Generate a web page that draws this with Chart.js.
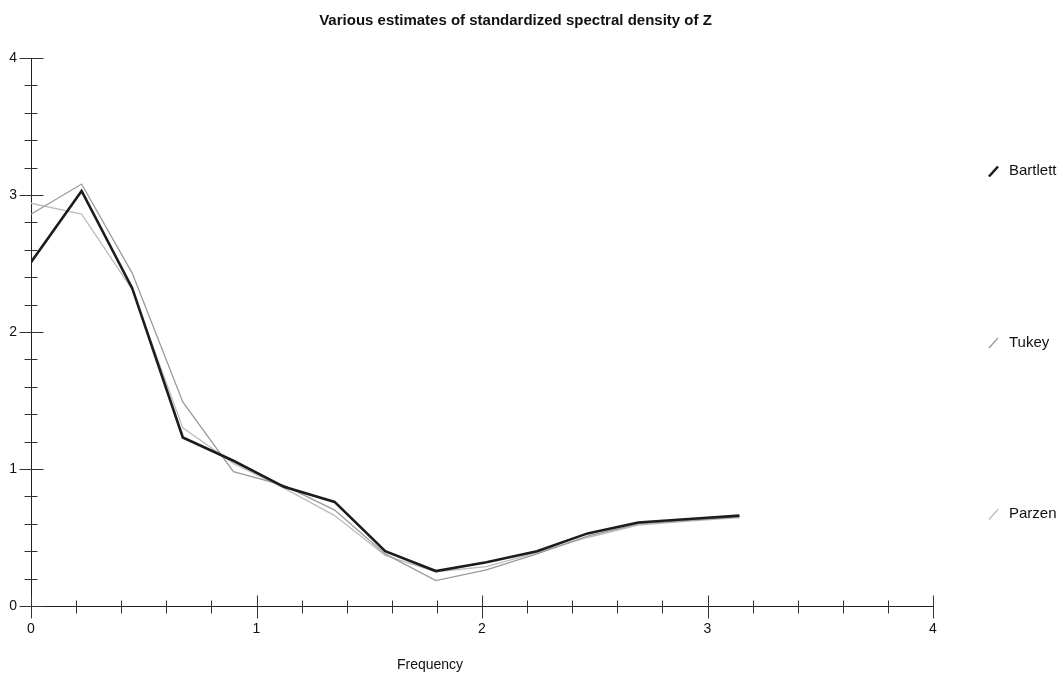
<!DOCTYPE html>
<html><head><meta charset="utf-8">
<script src="https://cdn.jsdelivr.net/npm/chart.js@4.4.0/dist/chart.umd.min.js"></script>
<style>html,body{margin:0;padding:0;background:#fff;} #wrap{width:1063px;height:675px;}</style>
</head><body><div id="wrap"><canvas id="c" width="1063" height="675"></canvas></div>
<script>
const chartTitle = "Various estimates of standardized spectral density of Z";
const xAxisTitle = "Frequency";
const seriesNames = ["Bartlett", "Tukey", "Parzen"];
const frequency = [0, 0.2244, 0.4488, 0.6732, 0.8976, 1.1220, 1.3464, 1.5708, 1.7952, 2.0196, 2.2440, 2.4684, 2.6928, 2.9172, 3.1416];
const bartlett = [2.51, 3.03, 2.32, 1.23, 1.06, 0.87, 0.76, 0.40, 0.255, 0.32, 0.40, 0.53, 0.61, 0.635, 0.66];
const tukey    = [2.86, 3.08, 2.43, 1.49, 0.98, 0.88, 0.70, 0.38, 0.185, 0.263, 0.38, 0.51, 0.60, 0.625, 0.65];
const parzen   = [2.94, 2.86, 2.31, 1.30, 1.04, 0.86, 0.66, 0.37, 0.25, 0.287, 0.39, 0.50, 0.59, 0.62, 0.645];
const xTicks = [0, 1, 2, 3, 4];
const yTicks = [0, 1, 2, 3, 4];

const FONT = "'Liberation Sans', Arial, sans-serif";
const colors = ['#1c1c1c', '#9a9a9a', '#bdbdbd'];
const widths = [2.6, 1.3, 1.3];
const legendY = [171, 342.5, 514];

function pts(arr){ return frequency.map((x,i)=>({x:x, y:arr[i]})); }

const decor = {
  id:'decor',
  afterDraw(chart){
    const c = chart.ctx, xs = chart.scales.x, ys = chart.scales.y;
    c.save();
    c.strokeStyle = '#333'; c.lineWidth = 1;
    const ay = Math.round(ys.getPixelForValue(0)) + 0.5;
    const ax = Math.round(xs.getPixelForValue(0)) + 0.5;
    for (let i = 0; i <= 20; i++) {
      const v = i * 0.2;
      const major = (i % 5 === 0);
      const px = Math.round(xs.getPixelForValue(v)) + 0.5;
      c.beginPath();
      if (major) { c.moveTo(px, ay - 11); c.lineTo(px, ay + 12); }
      else { c.moveTo(px, ay - 6); c.lineTo(px, ay + 7); }
      c.stroke();
      const py = Math.round(ys.getPixelForValue(v)) + 0.5;
      c.beginPath();
      if (major) { c.moveTo(ax - 12, py); c.lineTo(ax + 12, py); }
      else { c.moveTo(ax - 7, py); c.lineTo(ax + 6, py); }
      c.stroke();
    }
    c.fillStyle = '#111';
    c.textAlign = 'center'; c.textBaseline = 'middle';
    c.font = "bold 15px " + FONT;
    c.fillText(chartTitle, 515.5, 21);
    c.font = "14px " + FONT;
    c.fillText(xAxisTitle, 430, 665);
    chart.data.datasets.forEach((ds, i) => {
      const y = legendY[i];
      c.strokeStyle = ds.borderColor; c.lineWidth = ds.borderWidth;
      c.beginPath(); c.moveTo(989, y + 5.5); c.lineTo(998, y - 4.5); c.stroke();
      c.fillStyle = '#111'; c.textAlign = 'left'; c.textBaseline = 'middle';
      c.font = "15px " + FONT;
      c.fillText(ds.label, 1009, y);
    });
    c.restore();
  }
};

new Chart(document.getElementById('c'), {
  type: 'line',
  data: {
    datasets: [
      {label: seriesNames[0], data: pts(bartlett), borderColor: colors[0], borderWidth: widths[0], pointRadius: 0, tension: 0, fill: false},
      {label: seriesNames[1], data: pts(tukey), borderColor: colors[1], borderWidth: widths[1], pointRadius: 0, tension: 0, fill: false},
      {label: seriesNames[2], data: pts(parzen), borderColor: colors[2], borderWidth: widths[2], pointRadius: 0, tension: 0, fill: false}
    ]
  },
  options: {
    responsive: false, animation: false, devicePixelRatio: 1,
    layout: {padding: {top: 58, right: 130, left: 0, bottom: 0}},
    plugins: {legend: {display: false}, title: {display: false}, tooltip: {enabled: false}},
    scales: {
      x: {type: 'linear', min: 0, max: 4,
          afterFit(s){ s.height = 69; },
          afterBuildTicks(s){ s.ticks = xTicks.map(v => ({value: v})); },
          grid: {display: false, drawTicks: false},
          border: {display: true, color: '#222', width: 1},
          ticks: {padding: 15, color: '#111', font: {family: FONT, size: 14}, maxRotation: 0, autoSkip: false}},
      y: {type: 'linear', min: 0, max: 4,
          afterFit(s){ s.width = 31; },
          afterBuildTicks(s){ s.ticks = yTicks.map(v => ({value: v})); },
          grid: {display: false, drawTicks: false},
          border: {display: true, color: '#222', width: 1},
          ticks: {padding: 14, color: '#111', font: {family: FONT, size: 14}, autoSkip: false}}
    }
  },
  plugins: [decor]
});
</script>
</body></html>
